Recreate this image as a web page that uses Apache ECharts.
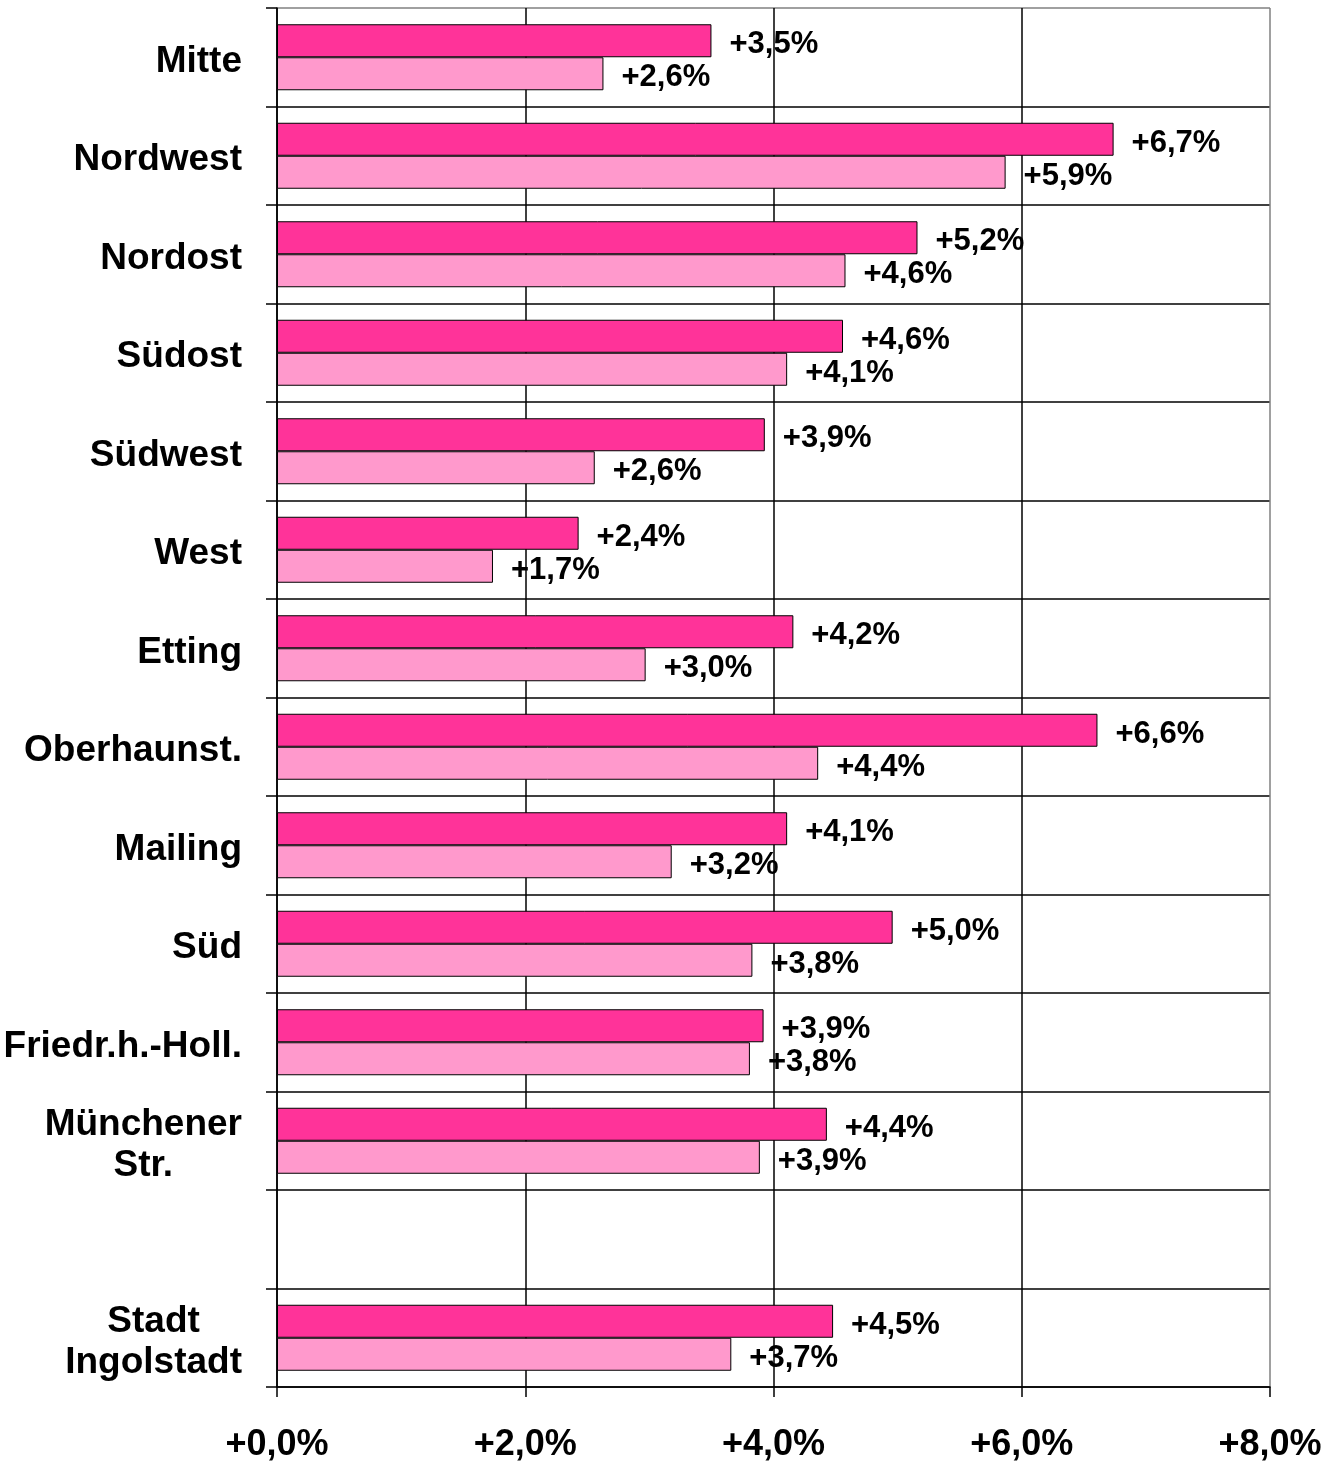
<!DOCTYPE html>
<html>
<head>
<meta charset="utf-8">
<script src="https://cdn.jsdelivr.net/npm/echarts@6/dist/echarts.min.js"></script>
<style>
  html, body { margin: 0; padding: 0; background: #fff; }
  #chart { width: 1338px; height: 1463px; }
</style>
</head>
<body>
<div id="chart"></div>
<script>
// Stadtbezirke, die leere Zeile trennt die Gesamtstadt ab
var categories = ['Mitte', 'Nordwest', 'Nordost', 'Südost', 'Südwest', 'West', 'Etting',
  'Oberhaunst.', 'Mailing', 'Süd', 'Friedr.h.-Holl.', 'Münchener\nStr.', '', 'Stadt\nIngolstadt']
var seriesDark = [3.50, 6.74, 5.16, 4.56, 3.93, 2.43, 4.16, 6.61, 4.11, 4.96, 3.92, 4.43, null, 4.48]
var seriesLight = [2.63, 5.87, 4.58, 4.11, 2.56, 1.74, 2.97, 4.36, 3.18, 3.83, 3.81, 3.89, null, 3.66]
var xTicks = [0, 2, 4, 6, 8]

var fontFamily = '"Liberation Sans", Arial, sans-serif'

function pct(v) {
  return '+' + v.toFixed(1).replace('.', ',') + '%'
}

// erste Trennlinie oben grau (Rahmen), der Rest schwarz
var ySplitColors = categories.map(function () { return '#000' })
ySplitColors.push('#000')
ySplitColors[0] = '#808080'
var xSplitColors = xTicks.map(function (t, i) { return i === xTicks.length - 1 ? '#808080' : '#000' })

var barLabel = {
  show: true,
  position: 'right',
  distance: 18,
  offset: [0, 4],
  color: '#000',
  fontFamily: fontFamily,
  fontWeight: 'bold',
  fontSize: 31,
  formatter: function (p) {
    return p.value == null ? '' : pct(p.value)
  }
}

var chart = echarts.init(document.getElementById('chart'), null, { renderer: 'canvas' })
chart.setOption({
  animation: false,
  backgroundColor: '#fff',
  grid: { left: 277, right: 68, top: 8, bottom: 75, containLabel: false },
  xAxis: {
    type: 'value',
    min: 0,
    max: 8,
    interval: 2,
    axisLine: { show: true, lineStyle: { color: '#000', width: 1.5 } },
    axisTick: { show: true, length: 10, lineStyle: { color: '#000', width: 1.5 } },
    splitLine: { show: true, lineStyle: { color: xSplitColors, width: 1.5 } },
    axisLabel: {
      margin: 40,
      color: '#000',
      fontFamily: fontFamily,
      fontWeight: 'bold',
      fontSize: 36,
      formatter: function (v) { return pct(v) }
    }
  },
  yAxis: {
    type: 'category',
    data: categories,
    inverse: true,
    axisLine: { show: true, lineStyle: { color: '#000', width: 1.5 } },
    axisTick: { show: true, length: 11, lineStyle: { color: '#000', width: 1.5 } },
    splitLine: { show: true, lineStyle: { color: ySplitColors, width: 1.5 } },
    axisLabel: {
      margin: 35,
      align: 'right',
      color: '#000',
      fontFamily: fontFamily,
      fontWeight: 'bold',
      fontSize: 37,
      lineHeight: 41,
      padding: [9, 0, 0, 0],
      formatter: function (v) {
        return v.split('\n').map(function (s) { return '{c|' + s + '}' }).join('\n')
      },
      rich: {
        c: {
          align: 'center',
          color: '#000',
          fontFamily: fontFamily,
          fontWeight: 'bold',
          fontSize: 37,
          lineHeight: 41
        }
      }
    }
  },
  series: [
    {
      name: 'dunkel',
      type: 'bar',
      data: seriesDark,
      barWidth: 33,
      barGap: '0%',
      itemStyle: { color: '#FF3399', borderColor: '#000', borderWidth: 1 },
      label: barLabel
    },
    {
      name: 'hell',
      type: 'bar',
      data: seriesLight,
      barWidth: 33,
      barGap: '0%',
      itemStyle: { color: '#FF99CC', borderColor: '#000', borderWidth: 1 },
      label: barLabel
    }
  ]
})
</script>
</body>
</html>
